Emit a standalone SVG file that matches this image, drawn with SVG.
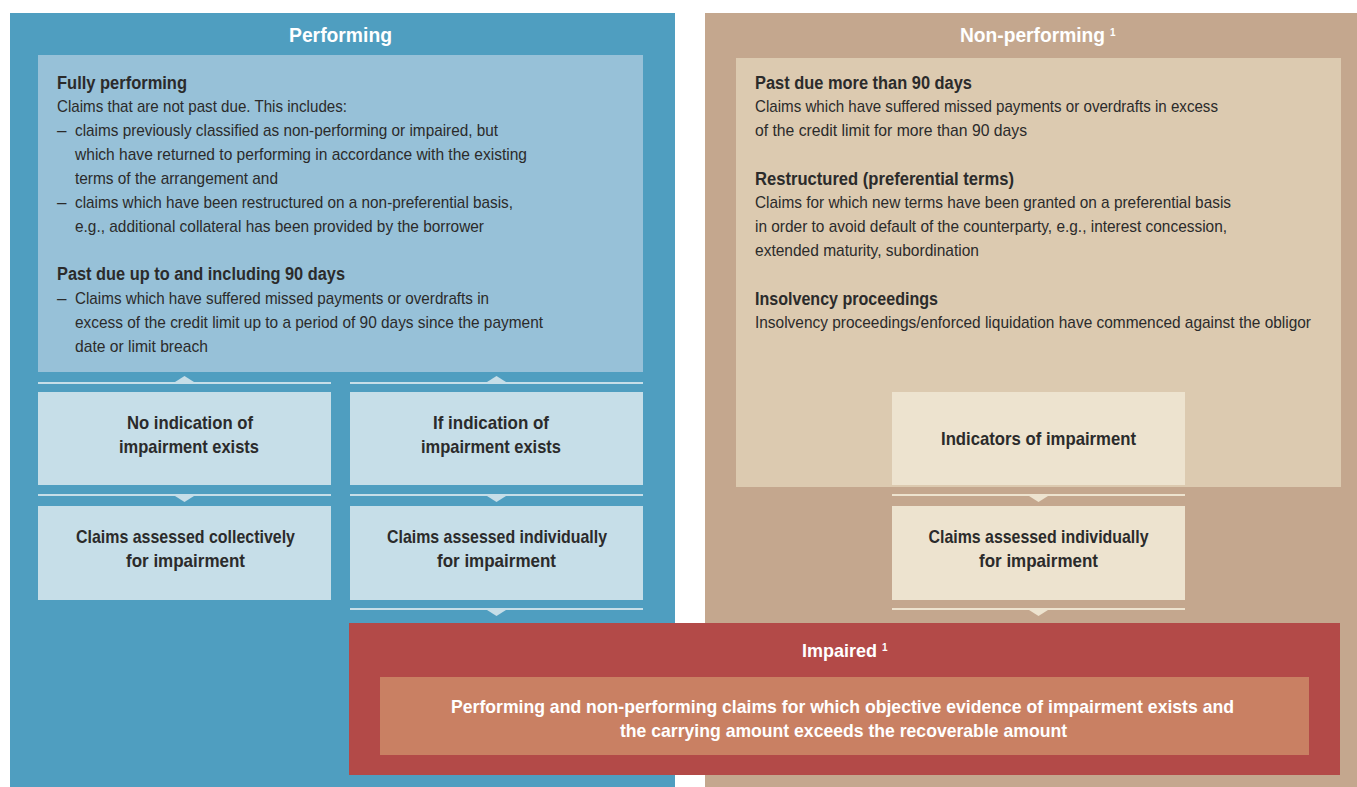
<svg xmlns="http://www.w3.org/2000/svg" width="1357" height="787" viewBox="0 0 1357 787">
<style>
text{font-family:"Liberation Sans",Arial,sans-serif;fill:#2b2b2b;font-size:17px}
.h{font-weight:bold;font-size:18px}
.t{font-weight:bold;font-size:19.5px;fill:#ffffff}
.c{font-weight:bold;font-size:18.5px;text-anchor:middle}
.w{font-weight:bold;font-size:18.5px;text-anchor:middle;fill:#ffffff}
.sup{font-size:10px;font-weight:bold;fill:#ffffff}
.lb{fill:#c6dee8}
.lt{fill:#ede3cf}
</style>
<rect x="0" y="0" width="1357" height="787" fill="#ffffff"/>
<g id="performing">
<rect x="10" y="13" width="665" height="774" fill="#4f9ec0"/>
<text class="t" x="340.5" y="42" text-anchor="middle" textLength="103" lengthAdjust="spacingAndGlyphs">Performing</text>
</g>
<g id="non-performing">
<rect x="705" y="13" width="652" height="774" fill="#c4a78e"/>
<text class="t" x="960" y="42" textLength="145" lengthAdjust="spacingAndGlyphs">Non-performing</text>
<text class="sup" x="1110" y="36">1</text>
</g>
<g id="performing-details">
<rect x="38" y="55" width="605" height="317" fill="#97c1d8"/>
<text class="h" x="57" y="89" textLength="130" lengthAdjust="spacingAndGlyphs">Fully performing</text>
<text x="57" y="112" textLength="290" lengthAdjust="spacingAndGlyphs">Claims that are not past due. This includes:</text>
<text x="57" y="136">–</text>
<text x="75" y="136" textLength="423" lengthAdjust="spacingAndGlyphs">claims previously classified as non-performing or impaired, but</text>
<text x="75" y="160" textLength="452" lengthAdjust="spacingAndGlyphs">which have returned to performing in accordance with the existing</text>
<text x="75" y="184" textLength="203" lengthAdjust="spacingAndGlyphs">terms of the arrangement and</text>
<text x="57" y="208">–</text>
<text x="75" y="208" textLength="438" lengthAdjust="spacingAndGlyphs">claims which have been restructured on a non-preferential basis,</text>
<text x="75" y="232" textLength="409" lengthAdjust="spacingAndGlyphs">e.g., additional collateral has been provided by the borrower</text>
<text class="h" x="57" y="280" textLength="288" lengthAdjust="spacingAndGlyphs">Past due up to and including 90 days</text>
<text x="57" y="304">–</text>
<text x="75" y="304" textLength="414" lengthAdjust="spacingAndGlyphs">Claims which have suffered missed payments or overdrafts in</text>
<text x="75" y="328" textLength="468" lengthAdjust="spacingAndGlyphs">excess of the credit limit up to a period of 90 days since the payment</text>
<text x="75" y="352" textLength="133" lengthAdjust="spacingAndGlyphs">date or limit breach</text>
</g>
<g id="no-indication">
<rect class="lb" x="38" y="392" width="293" height="93"/>
<text class="c" x="190" y="429" textLength="126" lengthAdjust="spacingAndGlyphs">No indication of</text>
<text class="c" x="189" y="453" textLength="140" lengthAdjust="spacingAndGlyphs">impairment exists</text>
</g>
<g id="if-indication">
<rect class="lb" x="350" y="392" width="293" height="93"/>
<text class="c" x="491" y="429" textLength="116" lengthAdjust="spacingAndGlyphs">If indication of</text>
<text class="c" x="491" y="453" textLength="140" lengthAdjust="spacingAndGlyphs">impairment exists</text>
</g>
<g id="collective">
<rect class="lb" x="38" y="506" width="293" height="94"/>
<text class="c" x="185.5" y="543" textLength="219" lengthAdjust="spacingAndGlyphs">Claims assessed collectively</text>
<text class="c" x="185.5" y="567" textLength="119" lengthAdjust="spacingAndGlyphs">for impairment</text>
</g>
<g id="individual-left">
<rect class="lb" x="350" y="506" width="293" height="94"/>
<text class="c" x="497" y="543" textLength="220" lengthAdjust="spacingAndGlyphs">Claims assessed individually</text>
<text class="c" x="496.5" y="567" textLength="119" lengthAdjust="spacingAndGlyphs">for impairment</text>
</g>
<g id="non-performing-details">
<rect x="736" y="58" width="605" height="429" fill="#dccab0"/>
<text class="h" x="755" y="89" textLength="217" lengthAdjust="spacingAndGlyphs">Past due more than 90 days</text>
<text x="755" y="112" textLength="463" lengthAdjust="spacingAndGlyphs">Claims which have suffered missed payments or overdrafts in excess</text>
<text x="755" y="136" textLength="272" lengthAdjust="spacingAndGlyphs">of the credit limit for more than 90 days</text>
<text class="h" x="755" y="185" textLength="259" lengthAdjust="spacingAndGlyphs">Restructured (preferential terms)</text>
<text x="755" y="208" textLength="476" lengthAdjust="spacingAndGlyphs">Claims for which new terms have been granted on a preferential basis</text>
<text x="755" y="232" textLength="472" lengthAdjust="spacingAndGlyphs">in order to avoid default of the counterparty, e.g., interest concession,</text>
<text x="755" y="256" textLength="224" lengthAdjust="spacingAndGlyphs">extended maturity, subordination</text>
<text class="h" x="755" y="305" textLength="183" lengthAdjust="spacingAndGlyphs">Insolvency proceedings</text>
<text x="755" y="328" font-size="15.5" textLength="556" lengthAdjust="spacingAndGlyphs">Insolvency proceedings/enforced liquidation have commenced against the obligor</text>
</g>
<g id="indicators">
<rect class="lt" x="892" y="392" width="293" height="93"/>
<text class="c" x="1038.5" y="445" textLength="195" lengthAdjust="spacingAndGlyphs">Indicators of impairment</text>
</g>
<g id="individual-right">
<rect class="lt" x="892" y="506" width="293" height="94"/>
<text class="c" x="1038.5" y="543" textLength="220" lengthAdjust="spacingAndGlyphs">Claims assessed individually</text>
<text class="c" x="1038.5" y="567" textLength="119" lengthAdjust="spacingAndGlyphs">for impairment</text>
</g>
<g id="impaired">
<rect x="349" y="623" width="991" height="152" fill="#b34a48"/>
<text class="w" x="839.5" y="657" textLength="75" lengthAdjust="spacingAndGlyphs">Impaired</text>
<text class="sup" x="882" y="651">1</text>
<rect x="380" y="677" width="929" height="78" fill="#c98063"/>
<text class="w" x="842.5" y="713" textLength="783" lengthAdjust="spacingAndGlyphs">Performing and non-performing claims for which objective evidence of impairment exists and</text>
<text class="w" x="843.5" y="737" textLength="447" lengthAdjust="spacingAndGlyphs">the carrying amount exceeds the recoverable amount</text>
</g>
<g id="connectors">
<rect class="lb" x="38" y="382" width="293" height="2"/>
<polygon class="lb" points="175,382 184.5,376 194,382"/>
<rect class="lb" x="350" y="382" width="293" height="2"/>
<polygon class="lb" points="487,382 496.5,376 506,382"/>
<rect class="lb" x="38" y="494" width="293" height="2"/>
<polygon class="lb" points="175,496 184.5,502 194,496"/>
<rect class="lb" x="350" y="494" width="293" height="2"/>
<polygon class="lb" points="487,496 496.5,502 506,496"/>
<rect class="lb" x="350" y="608" width="293" height="2"/>
<polygon class="lb" points="487,610 496.5,616 506,610"/>
<rect class="lt" x="892" y="494" width="293" height="2"/>
<polygon class="lt" points="1029,496 1038.5,502 1048,496"/>
<rect class="lt" x="892" y="608" width="293" height="2"/>
<polygon class="lt" points="1029,610 1038.5,616 1048,610"/>
</g>
</svg>
